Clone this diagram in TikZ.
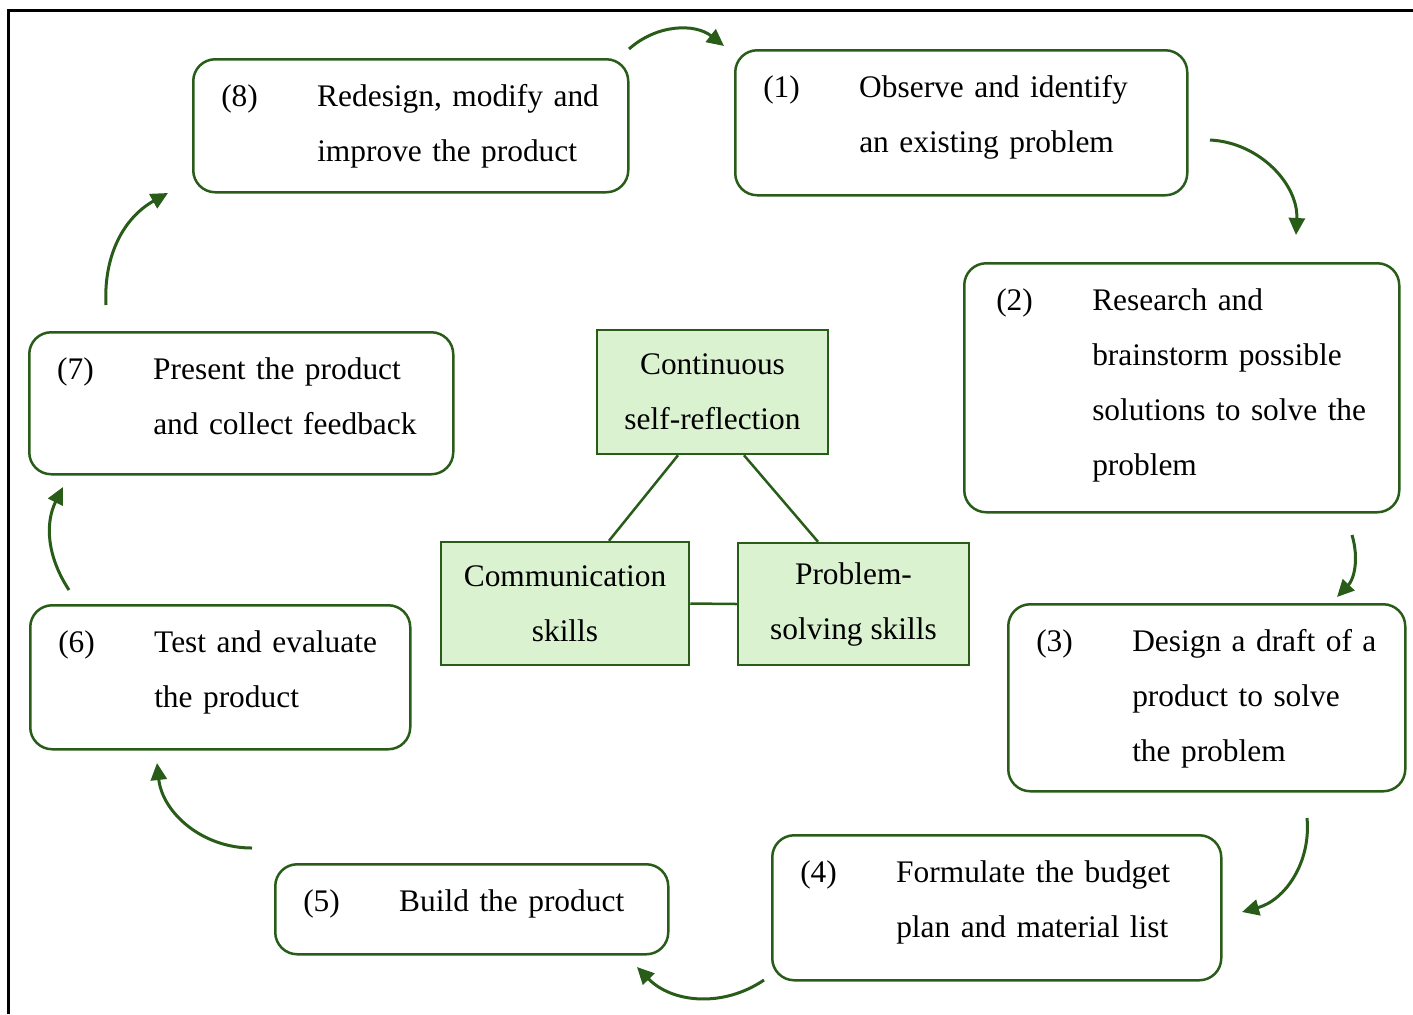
\documentclass[tikz,border=0pt]{standalone}
\usepackage{fontspec}
\setmainfont{Liberation Serif}
\usetikzlibrary{arrows.meta}
\usetikzlibrary{positioning}

\definecolor{leafgreen}{RGB}{40,92,24}
\definecolor{palegreen}{RGB}{218,242,208}

\begin{document}
\begin{tikzpicture}[
    x=0.5pt, y=-0.5pt,
    stage/.style 2 args={draw=leafgreen, line width=1.25pt, rounded corners=11pt,
        anchor=north west, inner xsep=14pt, inner ysep=0pt,
        text width=#1, text height=23.5pt, text depth=#2},
    skill/.style={draw=leafgreen, fill=palegreen, line width=1.25pt,
        align=center, inner sep=0pt},
    link/.style={draw=leafgreen, line width=1.25pt},
    flow/.style={leafgreen, line width=1.5pt, -{Triangle[length=8.5pt, width=8pt]}},
    font=\fontsize{15.7pt}{27.5pt}\selectfont
]

\useasboundingbox (0,0) rectangle (1413,1014);

% --- Frame ---
\draw[line width=1.5pt] (8.5,1014) -- (8.5,10.5) -- (1413,10.5);

% --- Stages of the cycle ---
\node[stage={198pt}{49pt}] (s1) at (734,49)
    {\begin{tabular}[t]{@{}p{48pt}@{}l@{}}(1) & Observe and identify\\ & an existing problem\end{tabular}};
\node[stage={185.5pt}{101pt}, inner xsep=16pt] (s2) at (963,262)
    {\begin{tabular}[t]{@{}p{48pt}@{}l@{}}(2) & Research and\\ & brainstorm possible\\ & solutions to solve the\\ & problem\end{tabular}};
\node[stage={170.5pt}{70pt}] (s3) at (1007,603)
    {\begin{tabular}[t]{@{}p{48pt}@{}l@{}}(3) & Design a draft of a\\ & product to solve\\ & the problem\end{tabular}};
\node[stage={196.5pt}{49pt}] (s4) at (771,834)
    {\begin{tabular}[t]{@{}p{48pt}@{}l@{}}(4) & Formulate the budget\\ & plan and material list\end{tabular}};
\node[stage={168.5pt}{21.5pt}] (s5) at (274,863)
    {\begin{tabular}[t]{@{}p{48pt}@{}l@{}}(5) & Build the product\end{tabular}};
\node[stage={162pt}{48.5pt}] (s6) at (29,604)
    {\begin{tabular}[t]{@{}p{48pt}@{}l@{}}(6) & Test and evaluate\\ & the product\end{tabular}};
\node[stage={184pt}{47.5pt}] (s7) at (28,331)
    {\begin{tabular}[t]{@{}p{48pt}@{}l@{}}(7) & Present the product\\ & and collect feedback\end{tabular}};
\node[stage={189.5pt}{43pt}] (s8) at (192,58)
    {\begin{tabular}[t]{@{}p{48pt}@{}l@{}}(8) & Redesign, modify and\\ & improve the product\end{tabular}};

% --- Skills in the middle ---
\node[skill, minimum width=115.5pt, minimum height=62pt] (reflect) at (712.5,392) {Continuous\\self-reflection};
\node[skill, minimum width=124pt, minimum height=61.5pt] (comm) at (565,603.5) {Communication\\skills};
\node[skill, minimum width=115.5pt, minimum height=61pt] (solve) at (853.5,604) {Problem-\\solving skills};

\draw[link] ([xshift=-17.25pt]reflect.south) -- ([xshift=22pt]comm.north);
\draw[link] ([xshift=15.75pt]reflect.south) -- ([xshift=-17.75pt]solve.north);
\draw[link] (comm.east) -- (solve.west);

% --- Arrow ends between the stages ---
\coordinate (from1) at (629,49);   \coordinate (to1) at (724,46);
\coordinate (from2) at (1210,140); \coordinate (to2) at (1296,235);
\coordinate (from3) at (1352,535); \coordinate (to3) at (1337,597);
\coordinate (from4) at (1307,818); \coordinate (to4) at (1242,912);
\coordinate (from5) at (764,980);  \coordinate (to5) at (637,967);
\coordinate (from6) at (252,848);  \coordinate (to6) at (157,763);
\coordinate (from7) at (69,590);   \coordinate (to7) at (63,487);
\coordinate (from8) at (106,305);  \coordinate (to8) at (168,193);

\foreach \i/\b in {1/40,2/45,3/30,4/40,5/40,6/42,7/30,8/32}
    \draw[flow] (from\i) to[bend left=\b] (to\i);

\end{tikzpicture}
\end{document}
